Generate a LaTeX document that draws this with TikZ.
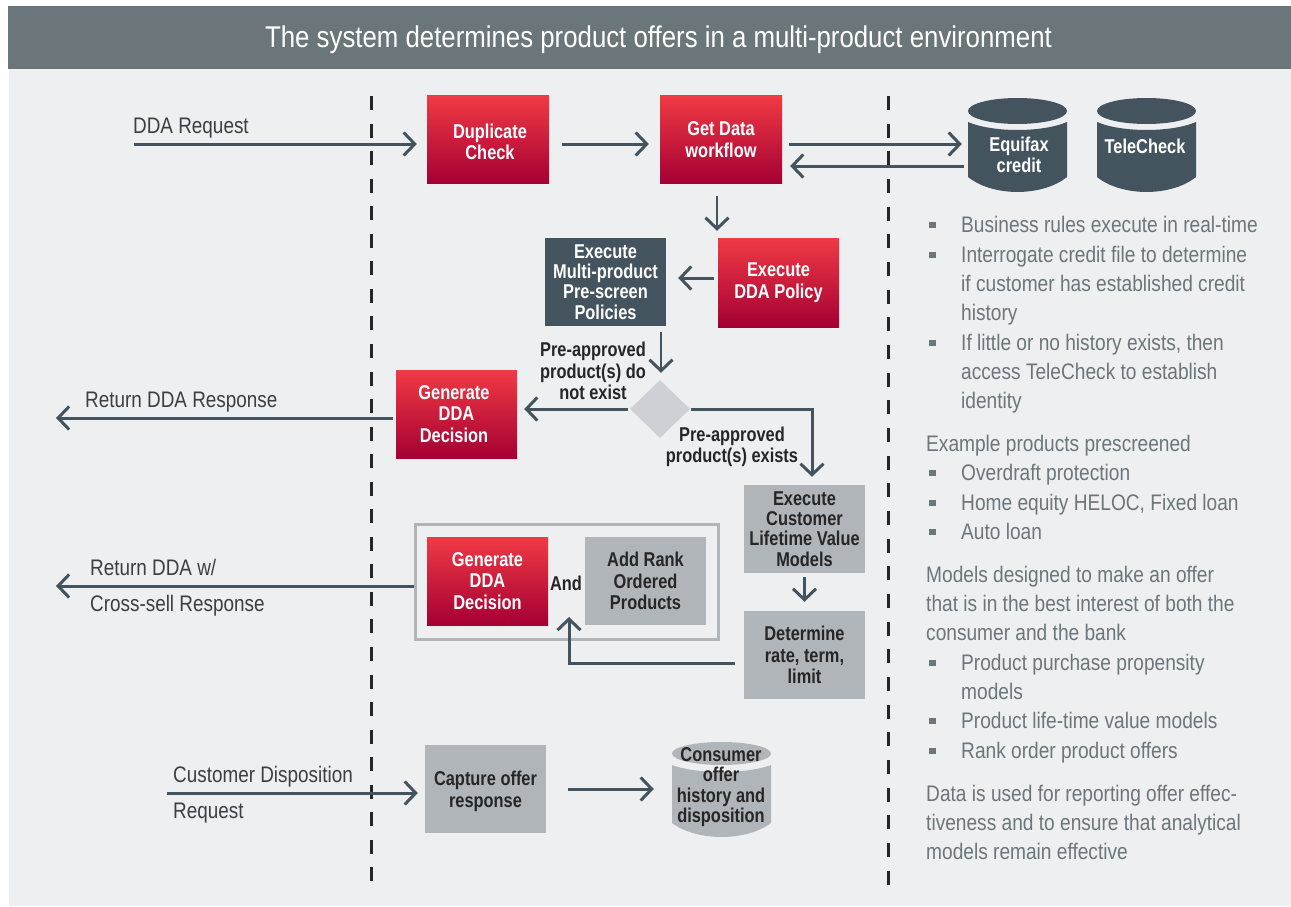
\documentclass[tikz,border=0pt]{standalone}
\usepackage{fontspec}
\usetikzlibrary{arrows.meta,shapes.geometric}
\newfontfamily\labf[FakeStretch=0.84]{Liberation Sans}
\newfontfamily\sidef[FakeStretch=0.85]{Liberation Sans}
\newfontfamily\boxf[FakeStretch=0.82]{Liberation Sans Bold}
\newfontfamily\titlef[FakeStretch=0.86]{Liberation Sans}
\definecolor{hdr}{HTML}{6B767B}
\definecolor{bgc}{HTML}{EEEFF1}
\definecolor{slate}{HTML}{44545F}
\definecolor{greyb}{HTML}{B0B5B9}
\definecolor{diam}{HTML}{CDD0D4}
\definecolor{redtop}{HTML}{F03A44}
\definecolor{redbot}{HTML}{A50034}
\definecolor{sidetxt}{HTML}{6B767B}
\definecolor{labtxt}{HTML}{3A3F44}
\newcommand{\lsa}{\vrule height 21pt depth 0pt width 0pt\relax}
\newcommand{\lsc}{\vrule height 22pt depth 0pt width 0pt\relax}
\newcommand{\lsb}{\vrule height 0pt depth 6pt width 0pt\relax}
\tikzset{
  boxtxt/.style={font=\boxf\fontsize{20}{21.6}\selectfont,align=center,inner sep=0pt},
  boxtxtb/.style={font=\boxf\fontsize{20}{20.4}\selectfont},
  redbox/.style={boxtxt,minimum width=122pt,minimum height=88pt,top color=redtop,bottom color=redbot,text=white},
  darkbox/.style={boxtxt,minimum width=121pt,minimum height=88pt,fill=slate,text=white},
  greybox/.style={boxtxt,minimum width=121pt,minimum height=88pt,fill=greyb,text=black!85},
  lab/.style={font=\labf\fontsize{22.5}{29}\selectfont,text=labtxt,anchor=west,inner sep=0pt,align=left},
  side/.style={font=\sidef\fontsize{22.5}{29.3}\selectfont,text=sidetxt,anchor=west,inner sep=0pt,align=left},
  bold lab/.style={boxtxt,text=black!85},
  cyltext/.style={boxtxt,minimum width=99pt},
  arr/.style={draw=slate,line width=3pt,-{Straight Barb[length=11pt,width=23pt,line width=3pt]}},
  sep/.style={draw=black!85,line width=3pt},
  bul/.style={fill=hdr},
}
\newcommand{\cyl}[9]{% color x1 x2 ytop ry y1 dip y2 bot
  \fill[#1] ({(#2+#3)/2},{#4+#5}) ellipse [x radius={(#3-#2)/2},y radius=#5];
  \fill[#1] (#2,#6) .. controls ({#2+(#3-#2)*0.25},{#6+#7*1.33}) and ({#2+(#3-#2)*0.75},{#6+#7*1.33}) .. (#3,#6)
    -- (#3,#8) .. controls ({#2+(#3-#2)*0.75},{#8+(#9-#8)*1.33}) and ({#2+(#3-#2)*0.25},{#8+(#9-#8)*1.33}) .. (#2,#8) -- cycle;
}
\newcommand{\sqb}[1]{\fill[bul] (928.5,#1-3.5) rectangle (935.5,#1+3);}
\begin{document}
\begin{tikzpicture}[x=1pt,y=-1pt]
\useasboundingbox (0,0) rectangle (1291,907);
\fill[white] (0,0) rectangle (1291,907);
\fill[bgc] (9,69) rectangle (1291,906);
\fill[hdr] (8,6) rectangle (1291,69);
\node[font=\titlef\fontsize{30}{32}\selectfont,text=white,inner sep=0pt] (title) at (658.5,39.5) {The system determines product offers in a multi-product environment};
% separators
\coordinate (s1a) at (371,96); \coordinate (s1b) at (371,882);
\coordinate (s2a) at (888,96); \coordinate (s2b) at (888,885);
\draw[sep,dash pattern=on 14pt off 13.55pt] (s1a) -- (s1b);
\draw[sep,dash pattern=on 14pt off 13.67pt] (s2a) -- (s2b);
% cylinders
\cyl{slate}{968}{1067}{98}{13}{122}{8}{177}{192}
\cyl{slate}{1097}{1196}{98}{13}{122}{8}{177}{192}
\cyl{greyb}{672}{771}{742}{11.5}{765}{7}{823}{837}
\node[cyltext,text=white] (equi) at (1019,155) {Equifax\\credit};
\node[cyltext,text=white] (tele) at (1145,146) {TeleCheck};
\node[cyltext,boxtxtb,text=black!85] (cons) at (721,787) {Consumer\\offer\\history and\\disposition};
% boxes
\node[redbox] (dup) at (488,139.5) {\rule{0pt}{19pt}\hspace*{4pt}Duplicate\\\hspace*{4pt}Check};
\node[redbox] (get) at (721,139.5) {Get Data\\workflow};
\node[darkbox,boxtxtb] (mult) at (605.5,282) {Execute\\Multi-product\\Pre-screen\\Policies};
\node[redbox,minimum width=121pt,minimum height=89pt] (pol) at (778.5,282.5) {Execute\\DDA Policy};
\node[redbox,minimum width=121pt] (gen1) at (456.5,414) {Generate\hspace*{5pt}\\DDA\hspace*{5pt}\\Decision\hspace*{5pt}};
\node[diamond,fill=diam,minimum width=60pt,minimum height=58pt,inner sep=0pt] (dec) at (660,409) {};
\node[greybox,boxtxtb] (clv) at (804.5,529) {Execute\\Customer\\Lifetime Value\\Models};
\node[greybox] (det) at (804.5,655) {Determine\\rate, term,\\limit};
\node[draw=greyb,line width=3pt,minimum width=302.5pt,minimum height=115pt,inner sep=0pt] (outer) at (567,582) {};
\node[redbox,minimum width=121pt] (gen2) at (487.5,581) {Generate\\DDA\\Decision};
\node[greybox] (add) at (645.5,581) {Add Rank\\Ordered\\Products};
\node[bold lab] (and) at (566,583) {And};
\node[greybox] (cap) at (485.5,789) {\rule{0pt}{19pt}Capture offer\\response};
% labels
\node[lab] (l1) at (133,125) {\lsc DDA Request\lsb};
\node[lab] (l2) at (85,399) {\lsc Return DDA Response\lsb};
\node[lab] (l3) at (90,567) {\lsc Return DDA w/\lsb};
\node[lab] (l4) at (90,603) {\lsc Cross-sell Response\lsb};
\node[lab] (l5) at (173,774) {\lsc Customer Disposition\lsb};
\node[lab] (l6) at (173,810) {\lsc Request\lsb};
\node[bold lab] (l7) at (593,371) {Pre-approved\\product(s) do\\not exist};
\node[bold lab] (l8) at (732,447) {Pre-approved\\product(s) exists};
% free ends
\coordinate (c1) at (134,144);
\coordinate (c2) at (56,418);
\coordinate (c3) at (56,586);
\coordinate (c4) at (167,793);
% connectors
\draw[arr] (c1) -- ([shift={(-10,4.5)}]dup.west);
\draw[arr] ([shift={(13,4.5)}]dup.east) -- ([shift={(-11,4.5)}]get.west);
\draw[arr] ([shift={(7,4.5)}]get.east) -- ([shift={(-7.5,-11)}]equi.west);
\draw[arr] ([shift={(-5.5,11)}]equi.west) -- ([shift={(8,26.5)}]get.east);
\draw[arr,line width=2.5pt] ([shift={(-4,12)}]get.south) -- ([shift={(-61.5,-7)}]pol.north);
\draw[arr] ([shift={(-4,-4.5)}]pol.west) -- ([shift={(12,-4)}]mult.east);
\draw[arr,line width=2.5pt] ([shift={(55.5,6)}]mult.south) -- ([shift={(1,-7)}]dec.north);
\draw[arr] ([shift={(-2,0)}]dec.west) -- ([shift={(7,-5)}]gen1.east);
\draw[arr] ([shift={(1,0)}]dec.east) -| ([shift={(7.5,-8)}]clv.north);
\draw[arr] ([shift={(-3,4)}]gen1.west) -- (c2);
\draw[arr] ([shift={(0,4)}]clv.south) -- ([shift={(0,-9)}]det.north);
\draw[arr] ([shift={(0,4)}]outer.west) -- (c3);
\draw[arr] ([shift={(-9,8)}]det.west) -| ([shift={(2,35)}]outer.center);
\draw[arr] (c4) -- ([shift={(-7,4)}]cap.west);
\draw[arr] ([shift={(22,0)}]cap.east) -- ([shift={(-17.5,2)}]cons.west);
% side text
\node[side] (t1) at (961,225) {\lsa Business rules execute in real-time\lsb};
\node[side] (t2) at (961,284) {\lsa Interrogate credit file to determine\\if customer has established credit\\history\lsb};
\node[side] (t3) at (961,372) {\lsa If little or no history exists, then\\access TeleCheck to establish\\identity\lsb};
\node[side] (t4) at (926,444) {\lsa Example products prescreened\lsb};
\node[side] (t5) at (961,473) {\lsa Overdraft protection\lsb};
\node[side] (t6) at (961,503) {\lsa Home equity HELOC, Fixed loan\lsb};
\node[side] (t7) at (961,532) {\lsa Auto loan\lsb};
\node[side] (t8) at (926,604) {\lsa Models designed to make an offer\\that is in the best interest of both the\\consumer and the bank\lsb};
\node[side] (t9) at (961,677.5) {\lsa Product purchase propensity\\models\lsb};
\node[side] (t10) at (961,721) {\lsa Product life-time value models\lsb};
\node[side] (t11) at (961,751) {\lsa Rank order product offers\lsb};
\node[side] (t12) at (926,823) {\lsa Data is used for reporting offer effec-\\tiveness and to ensure that analytical\\models remain effective\lsb};
\sqb{225}\sqb{255}\sqb{343}\sqb{473}\sqb{503}\sqb{532}\sqb{663}\sqb{721}\sqb{751}
\end{tikzpicture}
\end{document}
